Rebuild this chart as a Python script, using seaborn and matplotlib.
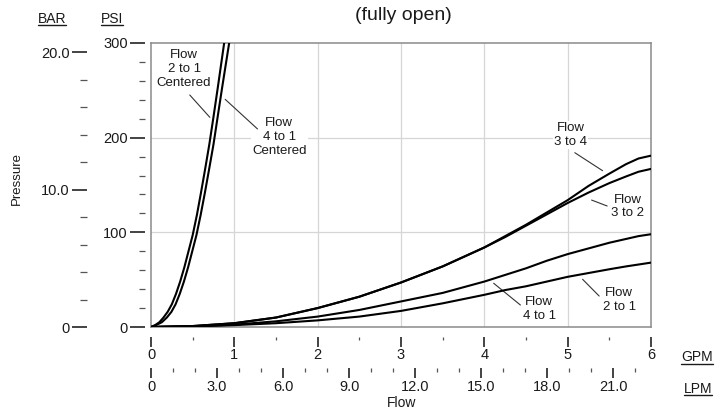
import numpy as np
import pandas as pd
import matplotlib
matplotlib.use("Agg")
import matplotlib.pyplot as plt
import seaborn as sns
from matplotlib.lines import Line2D
from matplotlib.ticker import FixedLocator

# ---------------- data (GPM vs PSI) ----------------
c21_gpm = [0, 0.05, 0.10, 0.15, 0.20, 0.25, 0.30, 0.35, 0.40, 0.45, 0.50, 0.55,
           0.60, 0.65, 0.70, 0.75, 0.80, 0.878]
c21_psi = [0, 2, 5, 10, 16, 24, 35, 48, 63, 80, 97, 118, 142, 167, 193, 222, 252, 300]
c41_gpm = [0, 0.06, 0.13, 0.19, 0.245, 0.295, 0.345, 0.395, 0.445, 0.495, 0.545,
           0.595, 0.647, 0.698, 0.75, 0.80, 0.852, 0.938]
c41_psi = [0, 2, 5, 10, 16, 24, 35, 48, 63, 80, 97, 118, 142, 167, 193, 222, 252, 300]

low_gpm = [0, 0.5, 1, 1.5, 2, 2.5, 3, 3.5, 4, 4.25, 4.5, 4.75, 5, 5.25, 5.5, 5.7, 5.85, 6]
f34_psi = [0, 1, 4, 10, 20, 32, 47, 64, 84, 96, 108, 121, 134, 149, 162, 172, 178, 181]
f32_psi = [0, 1, 4, 10, 20, 32, 47, 64, 84, 95, 107, 119, 131, 142, 152, 159, 164, 167]
f41_psi = [0, 0.8, 2.5, 6, 11, 18, 27, 36, 48, 55, 62, 70, 77, 83, 89, 93, 96, 98]
f21_psi = [0, 0.5, 2, 4, 7, 11, 17, 25, 34, 39, 43, 48, 53, 57, 61, 64, 66, 68]

gpm_ticks = [0, 1, 2, 3, 4, 5, 6]
gpm_labels = ["0", "1", "2", "3", "4", "5", "6"]
lpm_ticks = [0, 3, 6, 9, 12, 15, 18, 21]
lpm_labels = ["0", "3.0", "6.0", "9.0", "12.0", "15.0", "18.0", "21.0"]
psi_ticks = [0, 100, 200, 300]
psi_labels = ["0", "100", "200", "300"]
bar_ticks = [0, 10, 20]
bar_labels = ["0", "10.0", "20.0"]

ann_labels = ["Flow\n2 to 1\nCentered", "Flow\n4 to 1\nCentered", "Flow\n3 to 4",
              "Flow\n3 to 2", "Flow\n4 to 1", "Flow\n2 to 1"]
ann_pos = [(0.397, 272.5), (1.539, 200.7), (5.034, 202.8), (5.720, 127.3),
           (4.657, 19.3), (5.619, 28.8)]
leader_x = [(0.465, 0.706), (0.890, 1.278), (5.086, 5.419), (5.287, 5.474),
            (4.112, 4.433), (5.179, 5.378)]
leader_y = [(245.1, 221.5), (240.5, 209.2), (184.1, 165.1), (134.1, 127.8),
            (46.2, 23.2), (50.4, 32.7)]

curves = {
    "2 to 1 centered": (c21_gpm, c21_psi),
    "4 to 1 centered": (c41_gpm, c41_psi),
    "3 to 4": (low_gpm, f34_psi),
    "3 to 2": (low_gpm, f32_psi),
    "4 to 1": (low_gpm, f41_psi),
    "2 to 1": (low_gpm, f21_psi),
}

GPM_TO_LPM = 3.785
PSI_PER_BAR = 14.5038

# ---------------- style ----------------
sns.set_style("white")
plt.rcParams["font.family"] = ["Liberation Sans", "DejaVu Sans"]
TXT = "#1a1a1a"

W, H = 716, 411
fig = plt.figure(figsize=(W / 100, H / 100), dpi=100)
ax = fig.add_axes([151 / W, 84 / H, 500 / W, 284 / H])

for name, (xs, ys) in curves.items():
    df = pd.DataFrame({"gpm": xs, "psi": ys})
    sns.lineplot(data=df, x="gpm", y="psi", ax=ax, color="black", lw=1.5,
                 estimator=None, sort=False, zorder=3)

ax.set_xlim(0, 6)
ax.set_ylim(0, 300)
ax.set_xticks([1, 2, 3, 4, 5])
ax.set_yticks([100, 200])
ax.tick_params(length=0, labelbottom=False, labelleft=False)
ax.set_xlabel("")
ax.set_ylabel("")
ax.grid(True, color="#d6d6d6", lw=0.9)
ax.set_axisbelow(True)
for s in ax.spines.values():
    s.set_visible(True)
    s.set_color("#8a8a8a")
    s.set_linewidth(1.1)

# annotations
for lab, (tx, ty), lx, ly in zip(ann_labels, ann_pos, leader_x, leader_y):
    ax.text(tx, ty, lab, ha="center", va="center", fontsize=9.5, color=TXT,
            zorder=2, bbox=dict(facecolor="white", edgecolor="none", pad=1))
    ax.plot(lx, ly, color="#333333", lw=0.8, zorder=2)

def style_sec(sec, maj_len, min_len, pad):
    for s in sec.spines.values():
        s.set_visible(False)
    sec.tick_params(which="major", length=maj_len, width=1.1, color="#111111",
                    labelsize=10.5, labelcolor=TXT, pad=pad)
    sec.tick_params(which="minor", length=min_len, width=0.9, color="#555555")

# PSI axis
psi_ax = ax.secondary_yaxis(-6 / 500)
psi_ax.set_ticks(psi_ticks, labels=psi_labels)
psi_ax.yaxis.set_minor_locator(FixedLocator([v for v in range(20, 300, 20) if v % 100]))
style_sec(psi_ax, 10.8, 4.5, 1.5)

# BAR axis
bar_ax = ax.secondary_yaxis(-64 / 500, functions=(lambda p: p / PSI_PER_BAR,
                                                  lambda b: b * PSI_PER_BAR))
bar_ax.set_ticks(bar_ticks, labels=bar_labels)
bar_ax.yaxis.set_minor_locator(FixedLocator([2, 4, 6, 8, 12, 14, 16, 18]))
style_sec(bar_ax, 10.8, 5, 1.5)

# GPM axis
gpm_ax = ax.secondary_xaxis(-10 / 284)
gpm_ax.set_ticks(gpm_ticks, labels=gpm_labels)
gpm_ax.xaxis.set_minor_locator(FixedLocator([0.5, 1.5, 2.5, 3.5, 4.5, 5.5]))
style_sec(gpm_ax, 7.2, 2.5, 0.8)

# LPM axis
lpm_ax = ax.secondary_xaxis(-41 / 284, functions=(lambda g: g * GPM_TO_LPM,
                                                  lambda l: l / GPM_TO_LPM))
lpm_ax.set_ticks(lpm_ticks, labels=lpm_labels)
lpm_ax.xaxis.set_minor_locator(FixedLocator([v for v in range(1, 23) if v % 3]))
style_sec(lpm_ax, 7.2, 3, 1.2)

# titles & labels
fig.text(403 / W, 1 - 16 / H, "(fully open)", ha="center", va="center",
         fontsize=14, color=TXT)
fig.text(16.5 / W, 1 - 178 / H, "Pressure", ha="center", va="center",
         rotation=90, fontsize=9.5, color=TXT)
fig.text(402 / W, 1 - 403 / H, "Flow", ha="center", va="center",
         fontsize=10, color=TXT)

unit_texts = []
for label, cx, by in [("BAR", 52, 23), ("PSI", 112, 23), ("GPM", 697, 361),
                      ("LPM", 698, 392.5)]:
    t = fig.text(cx / W, 1 - by / H, label, ha="center", va="baseline",
                 fontsize=10, color=TXT)
    unit_texts.append((t, by))

fig.canvas.draw()
r = fig.canvas.get_renderer()
for t, by in unit_texts:
    bb = t.get_window_extent(r)
    yl = (H - by - 2.5) / H
    fig.add_artist(Line2D([bb.x0 / W, bb.x1 / W], [yl, yl],
                          transform=fig.transFigure, color=TXT, lw=1.0))

fig.savefig("out.png", dpi=100)
